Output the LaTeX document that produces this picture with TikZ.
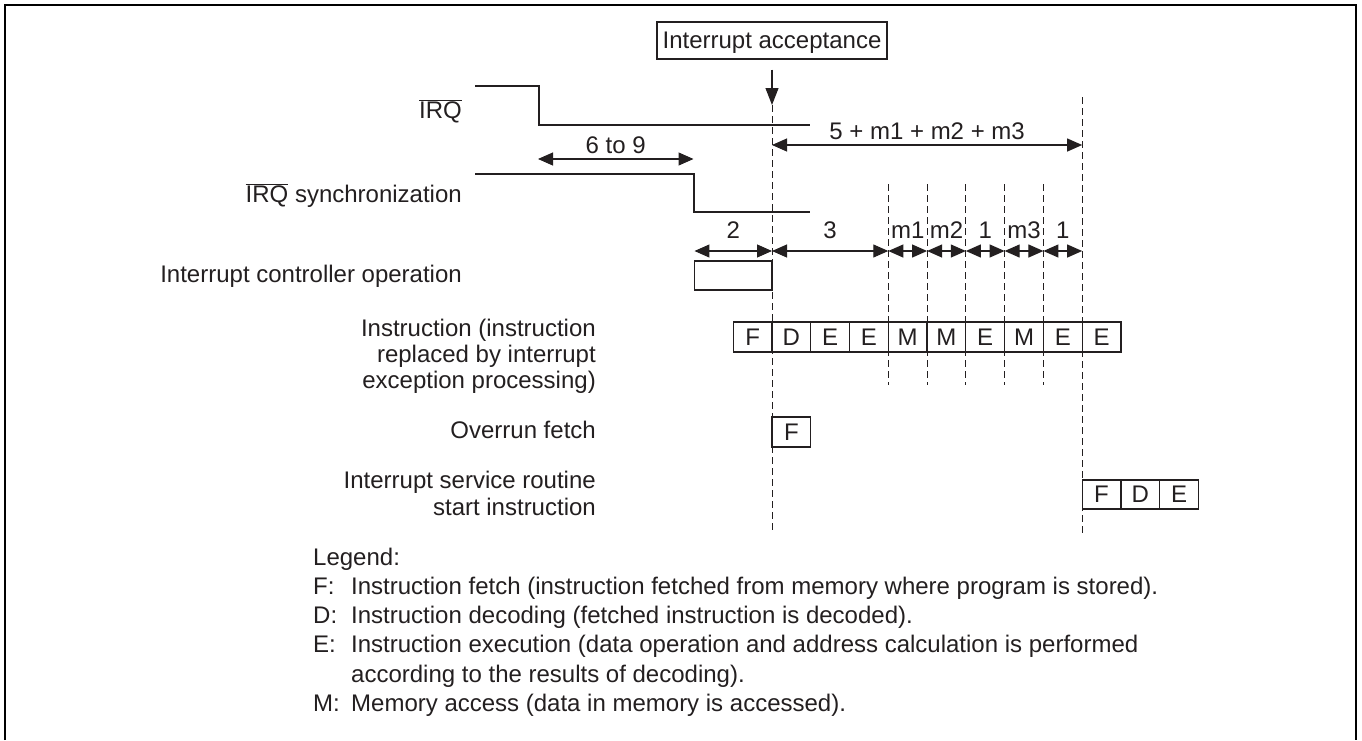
\documentclass[tikz,border=0pt]{standalone}
\usepackage{fontspec}
\setmainfont{Liberation Sans}
\usetikzlibrary{arrows.meta}
\definecolor{ink}{RGB}{35,31,32}
\begin{document}
\begin{tikzpicture}[x=1pt,y=-1pt,
  every node/.style={inner sep=0pt, text=ink, font=\fontsize{24}{26}\selectfont},
  sig/.style={draw=ink, line width=1.1pt},
  dim/.style={draw=ink, line width=1.1pt, {Triangle[length=15pt,width=13pt]}-{Triangle[length=15pt,width=13pt]}},
  guide/.style={draw=ink, line width=1pt, dash pattern=on 7pt off 4pt},
  cell/.style={draw=ink, line width=1.2pt, minimum width=38.77pt, minimum height=30pt, text height=16.5pt, text depth=0.5pt},
  lab/.style={anchor=base east},
  dimlab/.style={anchor=base},
]
\useasboundingbox (0,0) rectangle (1362,740);
% frame
\draw[black, line width=2pt] (5,740) -- (5,5) -- (1356,5) -- (1356,740);

% interrupt acceptance
\node[draw=ink, line width=1.2pt, minimum width=230pt, minimum height=37pt, text height=17pt, text depth=2pt] (acc) at (772,40.5) {Interrupt acceptance};
\coordinate (accTip) at (772,105);
\draw[draw=ink, line width=1.1pt, -{Triangle[length=17pt,width=13pt]}] ([yshift=-10pt]acc.south) -- (accTip);

% guides
\coordinate (g0b) at (772,532);
\draw[guide] (accTip) -- (g0b);
\coordinate (g8t) at (772+8*38.77,97);
\coordinate (g8b) at (772+8*38.77,533);
\draw[guide] (g8t) -- (g8b);
\foreach \k in {3,4,5,6,7} {
  \coordinate (gm\k t) at (772+\k*38.77,184);
  \coordinate (gm\k b) at (772+\k*38.77,385);
  \draw[guide] (gm\k t) -- (gm\k b);
}

% signals
\node[lab] (lirq) at (462,118) {$\overline{\mbox{IRQ}}$};
\draw[sig] (475,86) -- (539,86) -- (539,125) -- (810,125);
\node[lab] (lsync) at (462,202) {$\overline{\mbox{IRQ}}$ synchronization};
\draw[sig] (475,174) -- (694,174) -- (694,212) -- (810,212);

% 6 to 9
\coordinate (a69l) at (538,159);
\coordinate (a69r) at (693.5,159);
\draw[dim] (a69l) -- node[dimlab, yshift=6pt] {6 to 9} (a69r);

% 5 + m1 + m2 + m3
\coordinate (atl) at (772,145);
\coordinate (atr) at (772+8*38.77,145);
\draw[dim] (atl) -- node[dimlab, yshift=5.5pt] {5 + m1 + m2 + m3} (atr);

% cycle arrows
\coordinate (c0) at (772-2*38.77,251);
\coordinate (c1) at (772,251);
\foreach \k in {3,...,8} { \coordinate (c\k) at (772+\k*38.77,251); }
\draw[dim] (c0) -- node[dimlab, yshift=13pt] {2} (c1);
\draw[dim] (c1) -- node[dimlab, yshift=13pt] {3} (c3);
\draw[dim] (c3) -- node[dimlab, yshift=13pt] {m1} (c4);
\draw[dim] (c4) -- node[dimlab, yshift=13pt] {m2} (c5);
\draw[dim] (c5) -- node[dimlab, yshift=13pt] {1} (c6);
\draw[dim] (c6) -- node[dimlab, yshift=13pt] {m3} (c7);
\draw[dim] (c7) -- node[dimlab, yshift=13pt] {1} (c8);

% interrupt controller operation
\node[lab] (lctl) at (462,282) {Interrupt controller operation};
\node[draw=ink, line width=1.2pt, minimum width=77.54pt, minimum height=29pt] (ctl) at (772-38.77,275.5) {};

% instruction row
\node[anchor=north east, align=right, font=\fontsize{24}{26}\selectfont] (lins) at (596,336-18.2)
  {\strut Instruction (instruction\\replaced by interrupt\\exception processing)};
\foreach \t [count=\i from 0] in {F,D,E,E,M,M,E,M,E,E} {
  \node[cell] (ins\i) at (772+\i*38.77-19.385,337) {\t};
}

% overrun fetch
\node[lab] (lovr) at (596,438) {Overrun fetch};
\node[cell] (ovr) at (772+19.385,432) {F};

% ISR start instruction
\node[anchor=north east, align=right, font=\fontsize{24}{27}\selectfont] (lisr) at (596,488-18.9)
  {\strut Interrupt service routine\\start instruction};
\foreach \t [count=\i from 0] in {F,D,E} {
  \node[cell, minimum height=29pt] (isr\i) at (772+8*38.77+\i*38.77+19.385,494.5) {\t};
}

% legend
\node[anchor=north west, align=left, font=\fontsize{24}{29.2}\selectfont] (legend) at (313,565-20.44)
  {\strut Legend:\\
   \makebox[38pt][l]{F:}Instruction fetch (instruction fetched from memory where program is stored).\\
   \makebox[38pt][l]{D:}Instruction decoding (fetched instruction is decoded).\\
   \makebox[38pt][l]{E:}Instruction execution (data operation and address calculation is performed\\
   \hspace*{38pt}according to the results of decoding).\\
   \makebox[38pt][l]{M:}Memory access (data in memory is accessed).};
\end{tikzpicture}
\end{document}
